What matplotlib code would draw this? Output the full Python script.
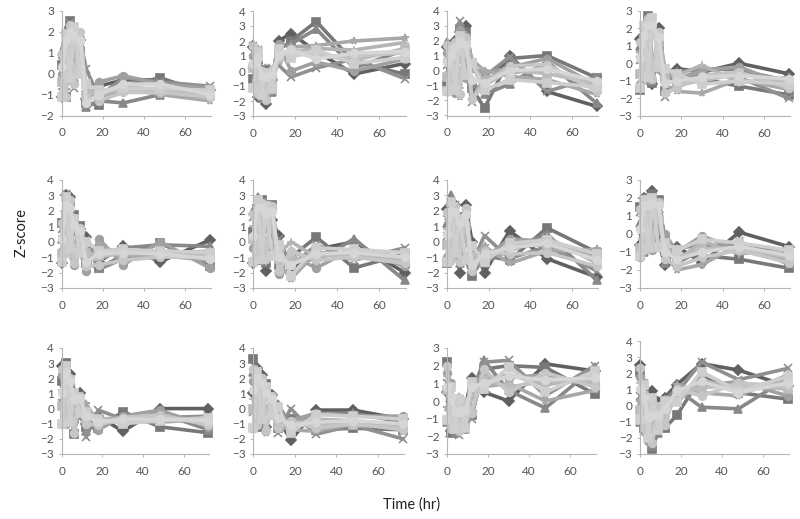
import matplotlib
matplotlib.use("Agg")
import matplotlib.pyplot as plt

plt.rcParams['font.family'] = ['Lato', 'DejaVu Sans']

times = [0, 2, 4, 6, 9, 12, 18, 30, 48, 72]
x_ticks = [0, 20, 40, 60]

panel1 = [
    [-1.1, 1.0, 2.2, 2.0, 1.6, -1.2, -0.6, -0.3, -0.3, -0.8],
    [0.4, -1.1, 2.5, 1.5, 1.0, -1.4, -1.5, -0.6, -0.2, -1.0],
    [1.1, 2.1, 2.2, -0.2, 1.9, -1.6, -1.3, -1.4, -1.0, -0.9],
    [0.6, -0.9, 2.4, -0.7, 1.6, 0.2, -1.1, -0.2, -0.4, -0.6],
    [0.0, 0.5, 2.0, 0.3, 1.2, -1.3, -0.4, -0.1, -0.5, -0.7],
    [-0.8, 1.6, -0.3, 2.0, 0.4, -0.9, -1.2, -0.7, -1.0, -1.3],
    [0.8, -0.5, 1.8, -0.4, 1.7, -0.7, -1.1, -0.6, -0.8, -1.2],
    [-0.4, 1.2, 1.0, 1.6, 0.8, -1.0, -0.9, -0.8, -0.8, -0.9],
    [1.0, -1.1, 2.3, -0.5, 2.0, -1.1, -1.3, -0.9, -0.9, -1.1],
    [-1.1, 1.9, -0.2, 2.2, 0.0, -0.5, -0.8, -0.7, -0.7, -0.8],
    [0.3, 1.6, 2.0, 1.8, 1.6, -1.4, -1.0, -0.5, -0.5, -1.0],
]
panel2 = [
    [1.6, -1.7, -1.2, -2.2, -0.6, 2.0, 2.5, 1.3, -0.2, 0.5],
    [-0.5, 0.8, -1.4, 0.1, -1.2, 1.4, 2.0, 3.3, 0.6, -0.2],
    [1.8, -1.5, -1.8, -0.6, -1.4, 1.6, 1.8, 2.8, 0.2, 1.4],
    [1.7, 1.4, 0.2, -1.8, 0.2, 0.4, -0.4, 0.2, 0.8, -0.5],
    [1.0, -1.0, -0.4, -1.6, -0.4, 1.8, 0.0, 0.6, 0.0, 0.8],
    [-1.2, 1.5, -0.9, -1.3, 0.1, 0.6, 1.6, 1.7, 2.0, 2.2],
    [0.6, 0.2, -1.6, -0.5, -1.1, 1.0, 1.3, 1.5, 1.4, 1.9],
    [0.2, -0.8, -1.1, -0.9, -0.6, 1.2, 1.1, 1.1, 0.7, 1.5],
    [1.7, -1.5, 0.0, -1.9, 0.1, 0.9, 1.5, 1.0, 1.0, 1.2],
    [-1.1, 1.3, -1.6, -0.1, -1.2, 1.5, 0.9, 1.4, 0.5, 0.9],
    [0.5, 0.9, -0.3, -0.4, -0.2, 1.1, 1.4, 0.8, 1.2, 1.3],
]
panel3 = [
    [1.6, -0.4, 2.0, 2.6, 3.0, 0.4, -1.2, 1.0, -1.4, -2.4],
    [-1.0, 1.5, 1.0, 2.8, 2.6, -1.2, -2.5, 0.8, 1.0, -0.5],
    [1.9, 0.2, -1.0, 3.0, 1.0, -0.8, -1.6, -0.9, 0.6, -2.2],
    [0.4, -1.2, 1.6, 3.3, 0.2, -2.1, -0.4, 0.9, -1.4, -0.4],
    [1.2, 0.8, -1.5, 2.7, -0.5, 0.2, -0.2, 0.2, 0.8, -1.0],
    [-1.5, 1.2, 1.5, -1.8, 2.4, 0.7, 0.0, -0.4, -0.6, -1.6],
    [0.8, -0.6, 1.8, -1.2, 1.9, -1.9, -0.5, -0.2, 0.2, -1.2],
    [-0.4, 0.6, 0.4, 0.8, 1.2, 0.5, -1.0, 0.0, -0.2, -0.9],
    [1.7, -1.2, 1.9, -1.6, 2.2, -1.9, -0.9, 0.3, 0.4, -1.4],
    [-1.4, 1.4, -1.3, 2.3, -0.3, 0.5, -1.3, -0.6, -0.8, -1.1],
    [0.6, 1.0, 1.6, 2.0, 1.7, -0.6, -0.8, 0.0, 0.1, -0.7],
]
panel4 = [
    [1.4, 0.4, 2.3, -1.2, 2.0, -0.6, -0.3, -0.5, 0.0, -0.6],
    [-1.5, 1.2, 2.7, -1.1, 1.0, -1.6, -1.3, -0.9, -1.3, -1.8],
    [1.0, -0.5, 2.4, -1.0, 1.6, -1.4, -0.5, -0.3, -0.4, -1.0],
    [0.2, 2.2, 1.4, 2.6, 0.4, -1.9, -1.1, -0.6, -0.8, -2.0],
    [-1.2, 0.8, 2.6, 0.2, -0.3, -0.6, -0.9, -0.4, -0.2, -1.3],
    [0.6, 1.8, -1.0, 2.7, 0.8, -1.2, -1.6, -1.7, -0.9, -1.5],
    [1.2, -0.4, 1.9, -0.6, 1.8, -0.2, -0.7, -0.1, -1.1, -0.8],
    [-0.6, 1.4, 0.6, 1.6, 1.2, -0.9, -1.2, -1.0, -0.6, -1.1],
    [1.2, -0.4, 2.5, -0.9, 1.8, -1.7, -1.4, -0.7, -0.5, -1.4],
    [-1.4, 2.1, -0.8, 2.6, -0.2, -0.3, -0.6, -1.2, -1.0, -1.2],
    [0.3, 1.6, 2.2, 2.2, 1.5, -1.1, -1.0, -0.8, -0.7, -0.9],
]
panel5 = [
    [-1.4, 3.0, 2.9, 1.2, 0.8, 0.3, -1.3, -0.3, -1.3, 0.1],
    [1.2, -0.6, 2.7, 1.7, 1.0, -1.4, -1.7, -0.9, -0.1, -1.6],
    [0.2, 2.9, 0.6, 0.8, -0.4, -1.0, -0.8, -0.4, -0.2, -0.3],
    [0.8, 3.1, 1.4, -0.6, 0.6, 0.1, -1.8, -1.1, -0.6, -1.3],
    [-0.6, 1.4, 2.4, -1.5, 0.9, -1.9, 0.2, -1.5, 0.0, -1.7],
    [1.3, -0.8, 2.2, 1.2, -0.8, -1.7, -0.2, -0.9, -0.9, -1.2],
    [0.4, 2.4, -0.5, 1.6, 0.3, -1.2, -1.1, -0.6, -0.8, -0.6],
    [-0.8, 1.8, 1.0, -0.9, 0.5, -0.7, -0.9, -0.8, -0.7, -0.9],
    [1.2, -0.7, 2.7, -1.4, 0.9, -1.6, -1.5, -1.2, -1.0, -1.0],
    [-1.3, 2.9, -0.4, 1.5, -0.7, 0.0, -0.6, -0.5, -0.6, -0.7],
    [0.2, 2.4, 2.2, 1.0, 0.7, -1.3, -0.8, -0.7, -0.8, -1.1],
]
panel6 = [
    [-1.4, 2.4, 2.5, -1.9, 1.4, 0.4, -1.9, -0.5, 0.0, -2.0],
    [0.6, -1.2, 2.7, -1.4, 2.4, -1.5, -1.0, 0.3, -1.7, -0.8],
    [2.0, 2.9, 1.2, 0.8, 2.2, -1.8, -0.6, -1.3, 0.2, -2.5],
    [1.6, -0.8, 2.6, 2.0, -1.0, 0.2, -1.6, -0.2, -1.2, -0.4],
    [-0.4, 2.7, -1.2, 2.3, 1.0, -2.1, -0.9, -1.7, -0.4, -1.6],
    [-1.2, 1.6, 2.0, -1.0, 2.3, -1.4, -2.4, -0.7, -0.8, -1.3],
    [1.0, 0.2, 2.2, -1.3, 1.9, -0.8, 0.0, -1.0, -0.6, -1.0],
    [0.2, 1.4, 0.8, 1.4, 0.9, -1.1, -1.2, -0.9, -0.9, -1.2],
    [1.8, -1.1, 2.5, -1.1, 2.3, -1.9, -0.6, -1.2, -1.0, -1.4],
    [-1.3, 2.7, -1.1, 2.3, -0.9, -0.2, -2.2, -0.4, -0.5, -0.7],
    [0.4, 2.2, 2.2, 1.8, 2.0, -1.0, -1.5, -0.8, -0.7, -1.0],
]
panel7 = [
    [2.1, -0.8, 2.4, -2.0, 2.4, 0.0, -2.0, 0.7, -1.1, -2.3],
    [-1.4, 1.0, -0.8, 1.6, -1.2, -2.2, -0.9, -1.2, 0.9, -0.7],
    [1.2, 3.0, 1.6, -1.4, 1.8, -0.6, -1.4, -0.5, 0.5, -2.5],
    [0.4, 2.2, 2.4, 0.4, -1.3, -1.4, 0.4, -1.1, -0.3, -1.9],
    [-1.0, 2.6, -0.4, 1.4, 2.1, -1.8, -1.1, 0.2, 0.0, -0.9],
    [1.6, -1.3, 2.0, -1.2, 1.6, -0.9, -0.3, -1.4, -0.6, -0.5],
    [0.8, 1.6, -0.7, 1.2, 0.2, -1.2, -0.7, -0.6, 0.3, -1.4],
    [-0.2, 0.8, 1.0, 0.3, 1.0, -1.0, -1.0, -0.3, -0.2, -1.1],
    [1.9, -1.2, 2.3, -1.3, 2.2, -1.9, -0.6, -0.8, -0.7, -1.6],
    [-1.3, 2.6, -0.7, 1.5, -1.2, -0.3, -1.3, -0.1, 0.1, -0.8],
    [0.5, 2.0, 1.9, 1.2, 1.8, -1.5, -0.8, -0.4, -0.1, -1.2],
]
panel8 = [
    [-0.6, 2.0, 1.4, 2.4, -0.4, -1.7, -0.7, -1.6, 0.1, -0.7],
    [1.5, 0.4, 2.0, 2.2, 1.9, -0.4, -1.2, -1.2, -1.4, -1.9],
    [0.6, -1.0, 1.8, -0.8, 1.4, -1.6, -0.8, -0.6, -0.7, -1.0],
    [1.2, 1.9, -0.6, 0.4, 1.8, -0.2, -1.6, -0.9, -0.4, -1.7],
    [-1.3, 1.2, 2.0, -0.9, 0.2, 0.0, -1.0, -0.1, -0.9, -1.2],
    [1.4, -0.7, 1.6, 1.8, -0.8, -1.2, -2.0, -1.7, -0.6, -1.5],
    [0.2, 1.6, -0.9, 1.6, 1.2, -0.9, -1.5, -0.4, -1.1, -0.9],
    [-0.8, 0.8, 0.6, 0.9, 0.8, -0.7, -1.3, -0.8, -0.8, -1.3],
    [1.4, -0.9, 1.9, -0.8, 1.8, -1.4, -1.8, -1.3, -0.9, -1.6],
    [-1.2, 1.9, -0.8, 2.0, -0.7, -0.5, -0.9, -0.3, -0.5, -0.9],
    [0.3, 1.6, 1.6, 1.7, 1.6, -1.0, -1.4, -1.0, -0.7, -1.2],
]
panel9 = [
    [2.8, 1.4, 2.3, 0.8, 1.0, -1.0, -0.5, -1.5, 0.0, 0.0],
    [1.8, 3.0, 1.2, -1.7, 0.6, -1.2, -1.3, -0.2, -1.2, -1.6],
    [-0.8, 2.4, 2.0, 1.2, -0.4, -1.5, -0.9, -0.9, -0.3, -1.4],
    [0.4, 2.6, -0.6, 0.8, 0.9, -1.9, -0.1, -0.7, -0.6, -0.5],
    [2.2, -1.0, 1.6, -0.8, 0.2, 0.0, -1.4, -0.5, -0.1, -1.2],
    [-1.1, 2.9, 0.4, -1.7, 0.5, 0.3, -1.0, -0.8, -0.9, -0.7],
    [1.2, 0.0, 1.6, 1.0, 0.1, -0.4, -0.7, -0.6, -0.5, -0.9],
    [0.2, 1.5, 0.8, 0.2, 0.4, -0.6, -0.8, -0.8, -0.7, -0.8],
    [2.6, -0.9, 2.0, -1.6, 0.8, -1.0, -1.1, -0.6, -0.4, -1.1],
    [-1.0, 2.8, -0.9, 1.0, -0.3, -0.2, -0.7, -1.0, -0.8, -0.6],
    [1.0, 2.4, 1.8, 0.6, 0.7, -0.5, -0.9, -0.7, -0.7, -0.8],
]
panel10 = [
    [1.0, 2.7, 2.2, -1.2, 0.9, -0.6, -2.1, -0.1, -0.1, -0.7],
    [3.3, -1.2, 1.8, 1.6, 0.4, -1.3, -0.7, -1.4, -1.3, -1.4],
    [2.4, 2.0, -0.8, 1.4, -0.4, 0.3, -1.2, -0.4, -0.3, -0.9],
    [-0.2, 2.5, 1.4, -1.4, 0.8, -1.6, 0.0, -1.7, -1.1, -2.0],
    [1.8, -0.9, 2.0, 1.0, 0.2, -0.9, -0.8, -0.3, -0.5, -0.5],
    [-1.4, 2.6, 0.4, -1.6, 0.6, -1.2, -1.4, -1.5, -1.0, -1.3],
    [0.6, 1.6, -0.6, 1.2, -0.5, -0.7, -1.0, -0.7, -0.8, -1.1],
    [0.0, 0.8, 0.9, 0.0, 0.3, -1.0, -1.2, -1.0, -1.1, -1.2],
    [2.6, -1.1, 2.0, -1.4, 0.8, -1.3, -0.8, -1.3, -1.0, -1.4],
    [-1.3, 2.4, -0.7, 1.4, -0.4, 0.1, -1.6, -0.4, -0.5, -0.7],
    [1.2, 2.0, 1.7, 1.0, 0.6, -0.6, -1.1, -0.9, -0.8, -1.0],
]
panel11 = [
    [0.5, -1.7, -1.2, -1.6, -0.3, 1.3, 0.5, 0.0, 2.1, 1.7],
    [2.2, -1.8, -1.6, 0.0, -1.2, -0.8, 1.8, 2.0, 1.9, 0.4],
    [-1.2, 0.4, -1.8, -1.3, -1.6, 0.4, 2.3, 0.6, -0.4, 1.9],
    [1.0, -1.2, 0.1, -1.9, 0.0, -1.0, 2.2, 2.3, 0.3, 2.0],
    [1.6, 1.0, -0.8, -0.4, -1.0, 1.0, 1.4, 1.3, 1.5, 0.9],
    [-0.4, -1.4, -1.4, 0.2, -0.5, 0.7, 0.8, 1.0, 0.0, 0.6],
    [1.4, -0.6, -1.1, -1.0, -1.4, 0.2, 1.1, 1.5, 0.9, 1.4],
    [0.6, -1.0, -0.3, -1.2, -0.8, 0.5, 1.2, 0.8, 1.1, 1.1],
    [2.0, -1.6, 0.0, -1.7, 0.0, -0.7, 1.8, 0.5, 1.6, 0.8],
    [-1.1, 0.8, -1.6, 0.1, -1.5, 1.1, 0.7, 1.9, 0.5, 1.7],
    [0.8, 0.2, -0.6, -0.6, -0.5, 0.8, 1.0, 1.4, 1.2, 1.3],
]
panel12 = [
    [2.5, 0.4, -1.8, 0.9, 0.2, 0.5, 1.3, 2.6, 2.2, 1.2],
    [2.1, -1.4, -0.6, -2.7, -0.4, -1.4, -0.6, 1.8, 0.8, 0.4],
    [-1.0, 1.4, 0.4, -2.5, -1.7, 0.4, 1.0, -0.1, -0.2, 1.7],
    [0.6, -1.6, -1.0, -2.3, -0.9, -0.9, 0.8, 2.7, 1.6, 2.3],
    [1.8, 0.2, -2.2, 0.3, 0.0, -0.3, 0.4, 1.2, 1.5, 0.6],
    [0.2, 1.5, -1.4, -1.6, -1.2, -1.3, 1.3, 0.8, 0.6, 1.9],
    [1.4, -0.8, -0.6, -1.2, -0.3, 0.1, 0.2, 1.6, 1.0, 1.5],
    [-0.3, 0.6, -1.5, -0.8, -1.0, -0.6, 0.7, 1.1, 1.3, 1.0],
    [2.3, -1.4, 0.2, -2.3, 0.0, -1.2, 1.0, 0.6, 1.4, 1.2],
    [-0.9, 1.3, -2.0, 0.5, -1.5, 0.3, 0.2, 2.1, 0.9, 1.8],
    [1.0, 0.5, -0.8, -0.6, -0.6, -0.2, 0.9, 1.5, 0.8, 1.4],
]
panels = [panel1, panel2, panel3, panel4, panel5, panel6,
          panel7, panel8, panel9, panel10, panel11, panel12]
y_ranges = [(-2, 3), (-3, 4), (-3, 4), (-3, 3),
            (-3, 4), (-3, 4), (-3, 4), (-3, 3),
            (-3, 4), (-3, 4), (-3, 3), (-3, 4)]

# pixel frames: x at 0, x at 60, y at top, y at bottom
frames = [
    (61.7, 185, 10.7, 115.5), (253.3, 379.3, 11, 116), (447, 572, 10.5, 115.5), (640, 764, 10.5, 116),
    (61.7, 185, 180, 288), (253.3, 379.3, 180, 288), (447, 572, 180, 288), (640, 764, 180, 288),
    (61.7, 184, 348, 454), (253.3, 378, 348, 454), (447, 570, 348, 454), (640, 763, 341, 454),
]
colors = ['#606060', '#787878', '#888888', '#909090', '#a0a0a0', '#a8a8a8',
          '#b4b4b4', '#bcbcbc', '#c6c6c6', '#cecece', '#d6d6d6']
markers = ['D', 's', '^', 'x', 'o', '*', '+', 's', 'o', 's', 'o']

W, H = 800, 519
fig = plt.figure(figsize=(W / 100, H / 100), dpi=100)
for vals, yr, (x0, x60, yt, yb) in zip(panels, y_ranges, frames):
    xmax = 72.5
    right = x0 + (x60 - x0) * xmax / 60
    ax = fig.add_axes([x0 / W, 1 - yb / H, (right - x0) / W, (yb - yt) / H])
    for s, c, m in zip(vals, colors, markers):
        ax.plot(times, s, color=c, lw=2.6, marker=m, ms=5.5, mew=1.2, clip_on=False)
    ax.set_xlim(0, xmax)
    ax.set_ylim(*yr)
    ax.set_xticks(x_ticks)
    ax.set_yticks(range(yr[0], yr[1] + 1))
    for sp in ('top', 'right'):
        ax.spines[sp].set_visible(False)
    for sp in ('left', 'bottom'):
        ax.spines[sp].set_color('#b5b5b5')
        ax.spines[sp].set_linewidth(0.8)
    ax.tick_params(length=2.5, width=0.7, color='#b5b5b5', labelsize=8.5, labelcolor='#555555', pad=6)
    ax.tick_params(axis='y', pad=3)

fig.text(22 / W, 1 - 232 / H, 'Z-score', rotation=90, ha='center', va='center', fontsize=10.5, color='#222222')
fig.text(412 / W, 1 - 505 / H, 'Time (hr)', ha='center', va='center', fontsize=10.5, color='#222222')
fig.savefig('out.png', dpi=100)
